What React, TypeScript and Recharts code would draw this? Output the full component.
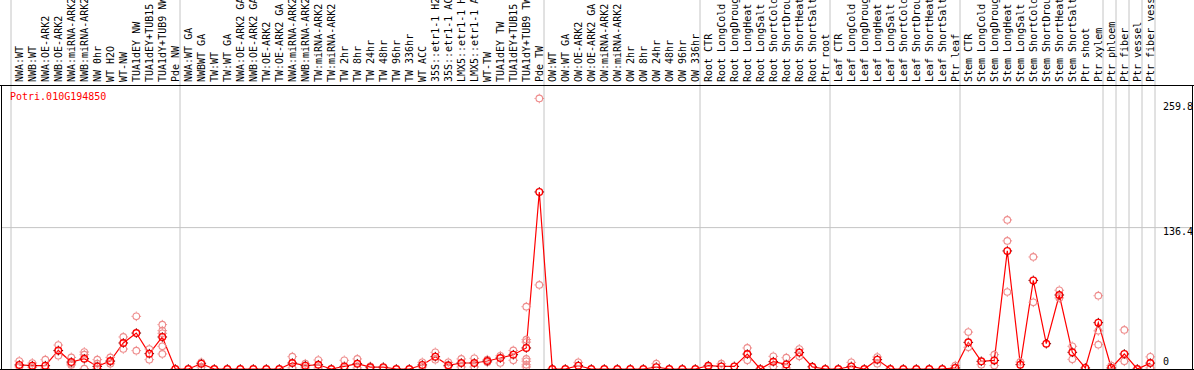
import {ComposedChart, Line, XAxis, YAxis, ReferenceLine} from 'recharts'

const geneId = 'Potri.010G194850'

// sample names, cut to 14 chars like in the source picture
const labels = [
    'NWA:WT', 'NWB:WT', 'NWA:OE-ARK2', 'NWB:OE-ARK2', 'NWA:miRNA-ARK2', 'NWB:miRNA-ARK2', 'NW 0hr',
    'WT H2O', 'WT-NW', 'TUA1dEY NW', 'TUA1dEY+TUB15', 'TUA1dY+TUB9 NW', 'Pde NW',
    'NWA:WT GA', 'NWBWT GA', 'TW:WT', 'TW:WT GA', 'NWA:OE-ARK2 GA', 'NWB:OE-ARK2 GA', 'TW:OE-ARK2',
    'TW:OE-ARK2 GA', 'NWA:miRNA-ARK2', 'NWB:miRNA-ARK2', 'TW:miRNA-ARK2', 'TW:miRNA-ARK2', 'TW 2hr',
    'TW 8hr', 'TW 24hr', 'TW 48hr', 'TW 96hr', 'TW 336hr', 'WT ACC', '35S::etr1-1 H2', '35S::etr1-1 AC',
    'LMX5::etr1-1 H', 'LMX5::etr1-1 A', 'WT-TW', 'TUA1dEY TW', 'TUA1dEY+TUB15', 'TUA1dY+TUB9 TW', 'Pde TW',
    'OW:WT', 'OW:WT GA', 'OW:OE-ARK2', 'OW:OE-ARK2 GA', 'OW:miRNA-ARK2', 'OW:miRNA-ARK2', 'OW 2hr',
    'OW 8hr', 'OW 24hr', 'OW 48hr', 'OW 96hr', 'OW 336hr',
    'Root CTR', 'Root LongCold', 'Root LongDroug', 'Root LongHeat', 'Root LongSalt', 'Root ShortCold',
    'Root ShortDrou', 'Root ShortHeat', 'Root ShortSalt', 'Ptr root',
    'Leaf CTR', 'Leaf LongCold', 'Leaf LongDroug', 'Leaf LongHeat', 'Leaf LongSalt', 'Leaf ShortCold',
    'Leaf ShortDrou', 'Leaf ShortHeat', 'Leaf ShortSalt', 'Ptr leaf',
    'Stem CTR', 'Stem LongCold', 'Stem LongDroug', 'Stem LongHeat', 'Stem LongSalt', 'Stem ShortCold',
    'Stem ShortDrou', 'Stem ShortHeat', 'Stem ShortSalt', 'Ptr shoot', 'Ptr xylem',
    'Ptr phloem', 'Ptr fiber', 'Ptr vessel', 'Ptr fiber vess',
]

// mean expression per sample (the connected dark circles)
const means = [
    3.9, 3.2, 3.2, 17.9, 6.7, 9.9, 2.5, 7.7, 25.1, 34.7, 14.8, 30.9, 0,
    0, 5.1, 0, 0, 0, 0, 0, 0, 5.8, 3.2, 4.1, 0, 2.5, 5.1, 1.8, 1.8, 0, 0, 3.9, 11.9, 3.5,
    5.8, 5.8, 7.7, 10.6, 13.8, 20.3, 170.8,
    0, 0, 3.2, 0, 0, 0, 0, 0, 1.8, 0, 0, 0,
    3.2, 2.5, 2.5, 14.4, 0, 7.1, 4.4, 15.8, 2.1, 0,
    0, 2.5, 0, 9.0, 0, 0, 0, 0, 0, 1.0,
    25.7, 7.4, 8.3, 113.9, 4.2, 85.5, 24.4, 71.4, 16.1, 1.0, 44.7,
    1.0, 14.5, 0, 5.7,
]

// single replicates (light circles)
const reps: number[][] = [
    [7.7, 2.0], [5.8, 1.5], [9.0, 0.5], [23.1, 12.8, 17.5], [11.2, 3.9, 5.0], [16.4, 13.8, 0.3], [9.0, 5.1, 0.3],
    [11.2, 5.0, 7.0], [30.9, 19.3], [50.8, 17.7], [19.3, 9.0], [42.8, 37.0, 34.4, 21.9, 14.5], [],
    [], [6.4, 2.0], [], [], [], [], [], [], [11.9, 1.0], [5.1, 1.0], [8.7, 1.0], [], [8.4, 1.0],
    [9.7, 1.0], [1.0, 2.5], [1.0], [], [], [6.4, 2.0], [16.1, 9.0], [6.4, 2.3],
    [9.7, 2.0], [10.3, 2.0], [9.0, 6.4], [12.8, 5.8], [17.9, 8.4], [60.1, 28.3, 26.0, 9.7, 7.5, 4.0, 2.0], [261, 81.1],
    [], [], [6.4], [], [], [], [], [], [5.1], [], [], [],
    [2.0], [5.1], [], [20.3, 8.4], [], [12.2, 2.3], [10.9, 1.0], [19.3, 12.2], [], [],
    [], [6.4], [], [11.6, 5.1], [], [], [], [], [], [3.3],
    [35.6, 20.9], [4.2], [13.8, 3.3], [143.8, 123.6, 74.3], [6.8], [108.1, 64.3], [], [76.0, 68.6], [21.9, 9.3], [], [70.7, 36.8, 23.5],
    [3.3], [37.7, 7.4], [], [11.7, 1.0],
]

// first sample of each tissue / experiment block
const groupStarts = [0, 13, 41, 53, 63, 73, 84, 85, 86, 87]
const yTicks = [0, 136.4, 259.8]
const gridValue = 136.4
const yMax = 274

const repCount = Math.max(...reps.map(r => r.length))
const rows = labels.map((label, i) => {
    const row: Record<string, number | string | null> = {idx: i, label, mean: means[i]}
    for (let k = 0; k < repCount; k++) row[`r${k}`] = reps[i][k] ?? null
    return row
})

const FONT = '"DejaVu Sans Mono", "Liberation Mono", monospace'
const SEP = '#c4c4c4'
const W = 1194
const H = 370

function ring(cx: number, cy: number, color: string, tick: string, w: number, key: string) {
    const d = `M${cx},${cy - 4.8}v1.2M${cx},${cy + 3.6}v1.2M${cx - 4.8},${cy}h1.2M${cx + 3.6},${cy}h1.2`
    return (
        <g key={key}>
            <circle cx={cx} cy={cy} r={3.3} fill="none" stroke={color} strokeWidth={w}/>
            <path d={d} stroke={tick} strokeWidth={1} fill="none"/>
        </g>
    )
}

const repDot = (k: number) => (p: any) => {
    if (p.cy == null || p.value == null || Number.isNaN(p.cy)) return <g key={`r${k}-${p.index}`}/>
    return ring(p.cx, p.cy, '#ee8c8c', '#ee8c8c', 1.1, `r${k}-${p.index}`)
}

const meanDot = (p: any) => ring(p.cx, p.cy, '#ff0000', '#700000', 1.4, `m-${p.index}`)

const TopTick = (p: any) => (
    <text transform={`translate(${p.x + 3.5},82) rotate(-90)`} fontFamily={FONT} fontSize={10}
          fill="#000" textAnchor="start">
        {labels[p.payload.value]}
    </text>
)

const RightTick = (p: any) => {
    const v = p.payload.value
    const dy = v === 0 ? -4 : v === yTicks[yTicks.length - 1] ? 10 : 7
    return (
        <text x={p.x + 6.2} y={p.y + dy} fontFamily={FONT} fontSize={10} fill="#000" textAnchor="start">
            {v}
        </text>
    )
}

// block separators run through the label strip too
const sepShape = (p: any) => (
    <line x1={p.x1 - 1.8} x2={p.x2 - 1.8} y1={0} y2={H} stroke={SEP} strokeWidth={1}/>
)
// horizontal grid line goes from frame to frame
const gridShape = (p: any) => (
    <line x1={2} x2={W - 2} y1={p.y1} y2={p.y2} stroke={SEP} strokeWidth={1}/>
)

export default function App() {
    return (
        <div style={{position: 'absolute', left: 0, top: 0, width: W, height: H, background: '#fff'}}>
            <ComposedChart width={W} height={H} data={rows} margin={{top: 0, right: 2, left: 12.8, bottom: 1}}>
                <XAxis dataKey="idx" type="category" scale="band" orientation="top" height={85} interval={0}
                       axisLine={false} tickLine={false} tick={<TopTick/>}/>
                <YAxis orientation="right" width={35.2} domain={[0, yMax]} ticks={yTicks} interval={0}
                       axisLine={false} tickLine={false} tickSize={0} tickMargin={0} tick={<RightTick/>}/>

                <ReferenceLine y={gridValue} shape={gridShape}/>
                {groupStarts.map(g => (
                    <ReferenceLine key={g} x={g} position="start" shape={sepShape}/>
                ))}
                <ReferenceLine x={labels.length - 1} position="end" shape={sepShape}/>

                {Array.from({length: repCount}, (_, k) => (
                    <Line key={k} dataKey={`r${k}`} stroke="none" dot={repDot(k)} activeDot={false}
                          isAnimationActive={false} legendType="none"/>
                ))}
                <Line dataKey="mean" type="linear" stroke="#ff0000" strokeWidth={1.2} dot={meanDot}
                      activeDot={false} isAnimationActive={false}/>
            </ComposedChart>

            <svg width={W} height={H} style={{position: 'absolute', left: 0, top: 0, pointerEvents: 'none'}}>
                <line x1={0} x2={W} y1={85.5} y2={85.5} stroke="#000"/>
                <line x1={0} x2={W} y1={369.5} y2={369.5} stroke="#000"/>
                <line x1={1.5} x2={1.5} y1={85} y2={H} stroke="#000"/>
                <line x1={1192.5} x2={1192.5} y1={85} y2={H} stroke="#000"/>
                <text x={10} y={100} fontFamily={FONT} fontSize={10} fill="#ff0000">{geneId}</text>
            </svg>
        </div>
    )
}
